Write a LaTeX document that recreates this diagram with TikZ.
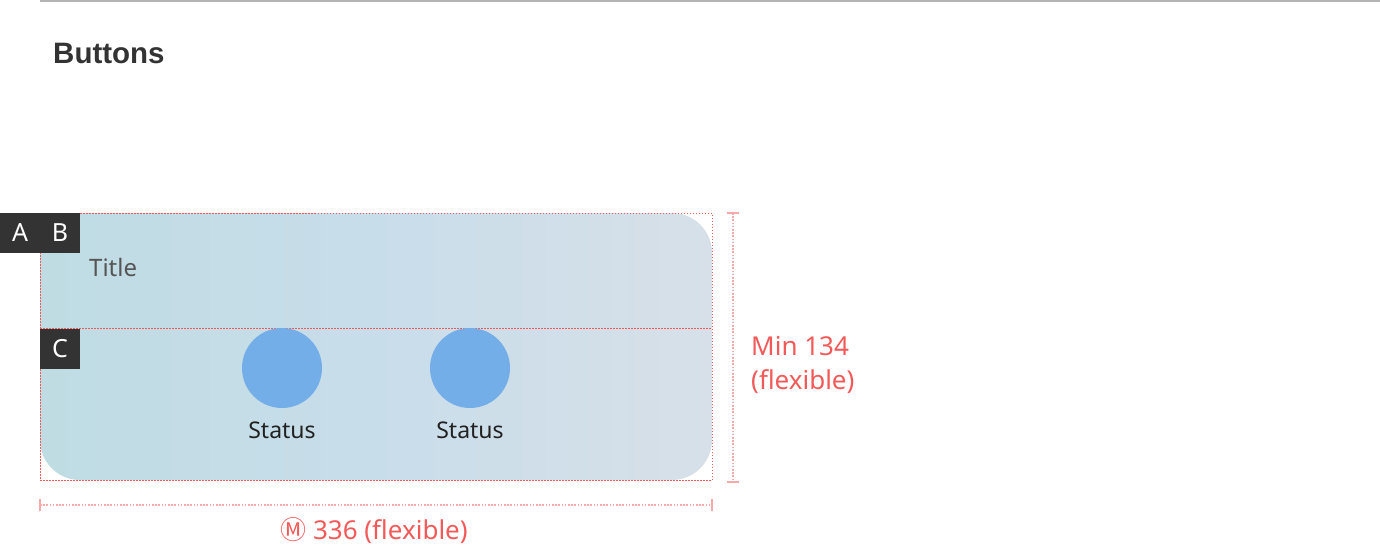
\documentclass[tikz,border=0pt]{standalone}
\usepackage{fontspec}
\setmainfont{Noto Sans}
\newfontfamily\symfont{Noto Sans CJK JP}
\newfontfamily\headfont{Liberation Sans}
\usepackage{xcolor}
\usetikzlibrary{positioning}
\definecolor{rulegray}{HTML}{B4B4B4}
\definecolor{headdark}{HTML}{333333}
\definecolor{tagdark}{HTML}{333333}
\definecolor{cardleft}{HTML}{BFDCE3}
\definecolor{cardmid}{HTML}{C8DDEA}
\definecolor{cardright}{HTML}{D7E0E8}
\definecolor{framered}{HTML}{F25A5A}
\definecolor{dimred}{HTML}{F8AAAA}
\definecolor{textred}{HTML}{F25A5A}
\definecolor{statusblue}{HTML}{74AEE8}
\definecolor{titlegray}{HTML}{555555}
\definecolor{textdark}{HTML}{222222}
\tikzset{frame/.style = {draw=framered, line width=1pt, dash pattern=on 1.5pt off 1.5pt}}
\tikzset{dim line/.style = {draw=dimred, line width=1.6pt, dash pattern=on 1.6pt off 1.6pt}}

\begin{document}
\begin{tikzpicture}[x=1pt,y=-1pt,node distance=40pt,
  tag node/.style={fill=tagdark,text=white,minimum size=40pt,inner sep=0pt,font=\fontsize{25}{25}\selectfont},
  status node/.style={circle,fill=statusblue,minimum size=80pt,inner sep=0pt},
  label node/.style={text=textdark,inner sep=0pt,anchor=base,font=\fontsize{23}{26}\selectfont},
  red node/.style={text=textred,inner sep=0pt,font=\fontsize{26}{34}\selectfont}]
  \useasboundingbox (0,0) rectangle (1380,544);
  \draw[rulegray,line width=2pt] (40,1) -- (1380,1);
  \node[anchor=base west,inner sep=0pt,text=headdark,font=\headfont\bfseries\fontsize{29.5}{32}\selectfont] (head) at (53,63) {Buttons};

  % card
  \shade[left color=cardleft,right color=cardright,middle color=cardmid,rounded corners=40pt] (40,213) rectangle (712,480);
  \draw[frame] (40,213) rectangle (712,480);
  \coordinate (split l) at (40,328);
  \coordinate (split r) at (712,328);
  \draw[frame] (split l) -- (split r);

  \node[tag node] (a) at (20,233) {A};
  \node[tag node] (b) [right of=a] {B};
  \node[tag node] (c) at (60,349) {C};
  \node[anchor=base west,inner sep=0pt,text=titlegray,font=\fontsize{24}{26}\selectfont] (title) at (89,276) {Title};

  \node[status node] (s1) at (282,368) {};
  \node[status node] (s2) at (470,368) {};
  \node[label node] (l1) at (282,438) {Status};
  \node[label node] (l2) at (470,438) {Status};

  % dimensions
  \coordinate (v top) at (733,213);
  \coordinate (v bot) at (733,482);
  \draw[dim line] (v top) -- (v bot);
  \draw[dimred,line width=1.6pt] ([xshift=-6pt]v top) -- ([xshift=6pt]v top);
  \draw[dimred,line width=1.6pt] ([xshift=-6pt]v bot) -- ([xshift=6pt]v bot);
  \node[red node,anchor=north west,align=left] (hmin) at (751,336) {Min 134\\(flexible)};

  \coordinate (h left) at (40,505);
  \coordinate (h right) at (712,505);
  \draw[dim line] (h left) -- (h right);
  \draw[dimred,line width=1.6pt] ([yshift=-6pt]h left) -- ([yshift=6pt]h left);
  \draw[dimred,line width=1.6pt] ([yshift=-6pt]h right) -- ([yshift=6pt]h right);
  \node[red node,anchor=base] (wmin) at (374,539) {{\symfont Ⓜ} 336 (flexible)};
\end{tikzpicture}
\end{document}
